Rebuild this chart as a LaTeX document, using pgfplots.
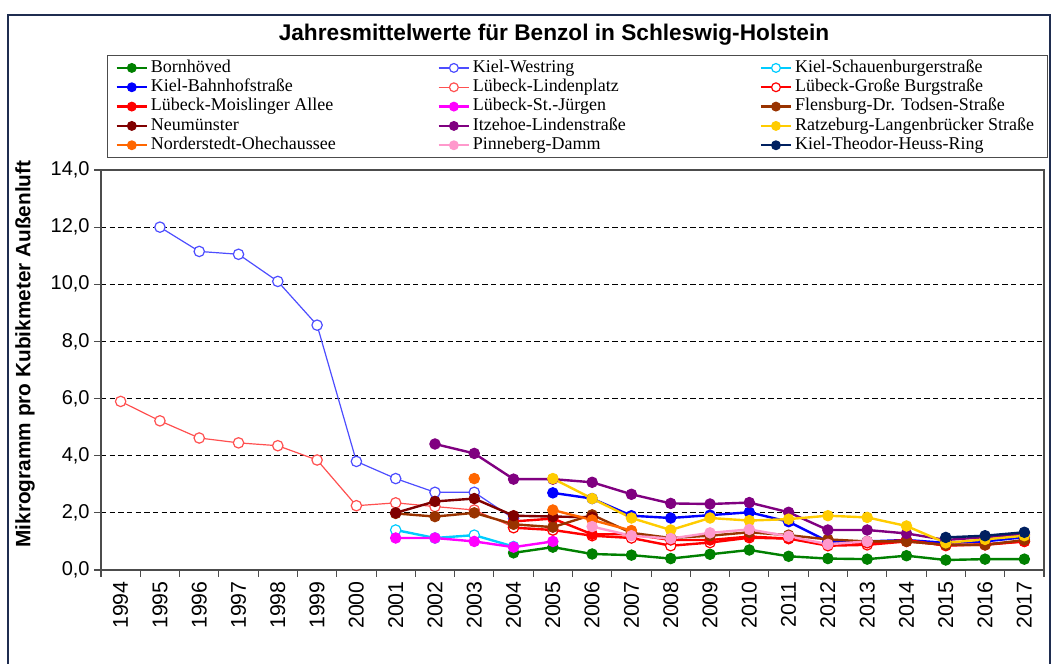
\documentclass[border=0pt]{standalone}
\usepackage{fontspec}
\setmainfont{Liberation Sans}
\newfontfamily\seriffont{Liberation Serif}
\usepackage{pgfplots}
\pgfplotsset{compat=1.18}
\definecolor{cBorn}{HTML}{008000}
\definecolor{cWest}{HTML}{4D4DFF}
\definecolor{cSchau}{HTML}{00CCFF}
\definecolor{cBahn}{HTML}{0000FF}
\definecolor{cLinden}{HTML}{FF5050}
\definecolor{cBurg}{HTML}{FF0000}
\definecolor{cMois}{HTML}{FF0000}
\definecolor{cJuerg}{HTML}{FF00FF}
\definecolor{cFlens}{HTML}{993300}
\definecolor{cNeum}{HTML}{800000}
\definecolor{cItz}{HTML}{800080}
\definecolor{cRatz}{HTML}{FFCC00}
\definecolor{cNord}{HTML}{FF6600}
\definecolor{cPinn}{HTML}{FF99CC}
\definecolor{cTHR}{HTML}{002060}
\definecolor{frame}{HTML}{1F2D50}
\pgfplotsset{
  filled/.style={color=#1, line width=1.8pt, mark=*, mark size=3.9pt, mark options={solid, fill=#1, line width=0.8pt}},
  open/.style={color=#1, line width=0.9pt, mark=*, mark size=3.9pt, mark options={solid, fill=white, draw=#1, line width=0.9pt}},
}
\begin{document}
\begin{tikzpicture}
\useasboundingbox (0,0) rectangle (790.5pt,498pt);
\draw[color=frame, line width=0.8pt] (6pt,-5pt) -- (6pt,486.75pt) -- (787.5pt,486.75pt) -- (787.5pt,-5pt);
\node[font=\bfseries\fontsize{17}{20}\selectfont] at (415.5pt,471.75pt) {Jahresmittelwerte für Benzol in Schleswig-Holstein};
\begin{axis}[
  at={(75.75pt,70.5pt)}, anchor=south west,
  scale only axis, width=707.25pt, height=300pt,
  xmin=-0.5, xmax=23.5, ymin=0, ymax=14,
  xtick={0,...,23},
  xticklabels={1994,1995,1996,1997,1998,1999,2000,2001,2002,2003,2004,2005,2006,2007,2008,2009,2010,2011,2012,2013,2014,2015,2016,2017},
  xticklabel style={rotate=90, anchor=east, font=\fontsize{16}{18}\selectfont},
  major x tick style={draw=none},
  minor xtick={-0.5,0.5,...,23.5},
  minor tick length=5pt,
  major tick length=5pt,
  tick align=outside,
  xtick pos=bottom, ytick pos=left,
  ytick={0,2,...,14},
  yticklabel style={font=\fontsize{15}{17}\selectfont, /pgf/number format/.cd, fixed, fixed zerofill, precision=1, use comma, assume math mode=true},
  ymajorgrids,
  y grid style={black, dash pattern=on 4pt off 2.5pt, line width=0.6pt},
  axis line style={black!70, line width=0.8pt},
  tick style={black!70, line width=0.8pt},
  unbounded coords=jump,
  ylabel={Mikrogramm pro Kubikmeter Außenluft},
  ylabel style={font=\bfseries\fontsize{15.6}{18}\selectfont, at={(axis description cs:-0.0806,0.54)}, anchor=center},
  legend columns=3,
  legend cell align=left,
  legend style={at={(axis description cs:0.0064,1.03)}, anchor=south west, draw=black!70, line width=0.6pt,
    font=\seriffont\fontsize{13.5}{15}\selectfont, inner xsep=6pt, inner ysep=2pt, row sep=0pt, column sep=0pt,
    nodes={inner xsep=2pt, inner ysep=0pt, text height=10.5pt, text depth=4pt}},
  legend image code/.code={\draw[mark repeat=2,mark phase=2,mark size=3.3pt] plot coordinates {(0cm,0cm) (0.4cm,0cm) (0.8cm,0cm)};},
]
% Bornhoeved
\addplot[filled=cBorn] coordinates {(10,0.6) (11,0.8) (12,0.56) (13,0.52) (14,0.4) (15,0.55) (16,0.7) (17,0.48) (18,0.4) (19,0.38) (20,0.5) (21,0.35) (22,0.38) (23,0.38)};
\addlegendentry{\makebox[213pt][l]{Bornhöved}}
% Kiel-Westring
\addplot[open=cWest] coordinates {(1,12.0) (2,11.15) (3,11.05) (4,10.1) (5,8.57) (6,3.8) (7,3.2) (8,2.72) (9,2.72) (10,1.8)};
\addlegendentry{\makebox[213pt][l]{Kiel-Westring}}
% Kiel-Schauenburgerstrasse
\addplot[open=cSchau, line width=1.8pt] coordinates {(7,1.4) (8,1.12) (9,1.22) (10,0.82)};
\addlegendentry{\makebox[181pt][l]{Kiel-Schauenburgerstraße}}
% Kiel-Bahnhofstrasse
\addplot[filled=cBahn] coordinates {(11,2.7) (12,2.5) (13,1.9) (14,1.82) (15,1.92) (16,2.02) (17,1.69) (18,1.0) (19,1.0) (20,1.05) (21,0.95) (22,1.0) (23,1.15)};
\addlegendentry{\makebox[213pt][l]{Kiel-Bahnhofstraße}}
% Luebeck-Lindenplatz
\addplot[open=cLinden] coordinates {(0,5.9) (1,5.22) (2,4.62) (3,4.45) (4,4.35) (5,3.85) (6,2.25) (7,2.35) (8,2.22) (9,2.1) (10,1.5) (11,1.4)};
\addlegendentry{\makebox[213pt][l]{Lübeck-Lindenplatz}}
% Luebeck-Grosse Burgstrasse
\addplot[open=cBurg, line width=1.8pt] coordinates {(10,1.48) (11,1.4) (12,1.2) (13,1.12) (14,0.85) (15,0.96) (16,1.13) (17,1.1) (18,0.85) (19,0.88) (20,1.0) (21,0.88) (22,0.88) (23,1.0)};
\addlegendentry{\makebox[181pt][l]{Lübeck-Große Burgstraße}}
% Luebeck-Moislinger Allee
\addplot[filled=cMois] coordinates {(10,1.7) (11,1.8) (12,1.25) (13,1.25) (14,1.05) (15,1.05) (16,1.17) (17,1.1) (18,0.9) (19,0.95) (20,1.05) (21,0.85) (22,0.9) (23,1.0)};
\addlegendentry{\makebox[213pt][l]{Lübeck-Moislinger Allee}}
% Luebeck-St.-Juergen
\addplot[filled=cJuerg] coordinates {(7,1.12) (8,1.12) (9,1.0) (10,0.8) (11,1.0)};
\addlegendentry{\makebox[213pt][l]{Lübeck-St.-Jürgen}}
% Flensburg
\addplot[filled=cFlens] coordinates {(7,1.98) (8,1.87) (9,2.0) (10,1.6) (11,1.5) (12,1.93) (13,1.3) (14,1.12) (15,1.2) (16,1.32) (17,1.22) (18,1.07) (19,1.0) (20,1.0) (21,0.88) (22,0.88) (23,1.05)};
\addlegendentry{\makebox[181pt][l]{Flensburg-Dr. Todsen-Straße}}
% Neumuenster
\addplot[filled=cNeum] coordinates {(7,2.0) (8,2.4) (9,2.5) (10,1.9) (11,1.87) (12,1.85)};
\addlegendentry{\makebox[213pt][l]{Neumünster}}
% Itzehoe
\addplot[filled=cItz] coordinates {(8,4.41) (9,4.08) (10,3.18) (11,3.18) (12,3.07) (13,2.65) (14,2.33) (15,2.31) (16,2.36) (17,2.02) (18,1.4) (19,1.4) (20,1.28) (21,1.05) (22,1.15) (23,1.25)};
\addlegendentry{\makebox[213pt][l]{Itzehoe-Lindenstraße}}
% Ratzeburg
\addplot[filled=cRatz] coordinates {(11,3.2) (12,2.5) (13,1.82) (14,1.4) (15,1.82) (16,1.73) (17,1.78) (18,1.9) (19,1.84) (20,1.54) (21,0.95) (22,1.07) (23,1.2)};
\addlegendentry{\makebox[181pt][l]{Ratzeburg-Langenbrücker Straße}}
% Norderstedt
\addplot[filled=cNord] coordinates {(9,3.2) (10,nan) (11,2.1) (12,1.75) (13,1.38)};
\addlegendentry{\makebox[213pt][l]{Norderstedt-Ohechaussee}}
% Pinneberg
\addplot[filled=cPinn] coordinates {(12,1.52) (13,1.2) (14,1.1) (15,1.3) (16,1.42) (17,1.18) (18,0.9) (19,1.0)};
\addlegendentry{\makebox[213pt][l]{Pinneberg-Damm}}
% Kiel-Theodor-Heuss-Ring
\addplot[filled=cTHR] coordinates {(21,1.14) (22,1.2) (23,1.32)};
\addlegendentry{\makebox[181pt][l]{Kiel-Theodor-Heuss-Ring}}
\end{axis}
\end{tikzpicture}
\end{document}
